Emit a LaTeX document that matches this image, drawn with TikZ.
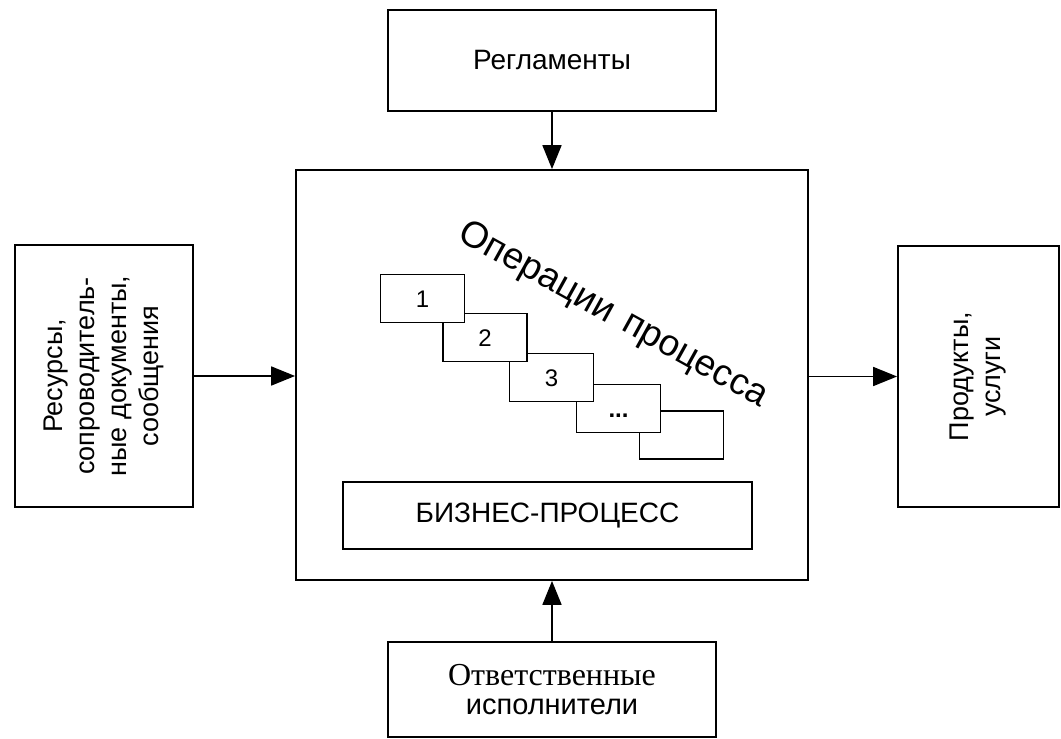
\documentclass[tikz,border=0pt]{standalone}
\usepackage{fontspec}
\setmainfont{Liberation Sans}
\newfontfamily\tnrfont{Liberation Serif}
\usetikzlibrary{arrows.meta}
\begin{document}
\begin{tikzpicture}[x=1pt,y=-1pt,
  box/.style={draw, line width=1.8pt, inner sep=0pt, fill=white},
  opbox/.style={box, minimum width=84pt, minimum height=48pt, text height=17pt, text depth=0pt, font=\fontsize{24}{28}\selectfont},
  arr/.style={line width=1.8pt, -{Triangle[length=24pt,width=19pt]}},
  lbl/.style={font=\fontsize{28}{32}\selectfont, align=center},
  side/.style={font=\fontsize{27}{32}\selectfont},
  optext/.style={rotate=-29, anchor=base west, inner sep=0pt, font=\fontsize{37}{40}\selectfont}]
\useasboundingbox (0,0) rectangle (1061,739);
% main boxes
\node[box, lbl, minimum width=328pt, minimum height=101pt] (top) at (552,60.5) {Регламенты};
\node[box, minimum width=512pt, minimum height=410pt] (center) at (552,375) {};
\node[box, side, minimum width=178pt, minimum height=262pt] (left) at (104,376)
  {\rotatebox{90}{\begin{tabular}{@{}c@{}}Ресурсы,\\сопроводитель-\\ные документы,\\сообщения\end{tabular}}};
\node[box, side, minimum width=161pt, minimum height=261pt] (right) at (978.5,376.5)
  {\rotatebox{90}{\begin{tabular}{@{}c@{}}Продукты,\\услуги\end{tabular}}};
\node[box, minimum width=328pt, minimum height=95pt, align=center, font=\fontsize{29}{29}\selectfont] (bottom) at (552,689.5)
  {{\tnrfont\fontsize{32}{29}\selectfont Ответственные}\\исполнители};
% inner content
\node[box, lbl, minimum width=409pt, minimum height=67pt] (bp) at (547.5,515.5) {БИЗНЕС-ПРОЦЕСС};
\node[opbox] (op5) at (681.5,435) {};
\node[opbox] (op4) at (618.5,408.5) {\textbf{...}};
\node[opbox] (op3) at (551.5,377.5) {3};
\node[opbox] (op2) at (485,337.5) {2};
\node[opbox] (op1) at (422.5,298.5) {1};
\node[optext] (optitle1) at (456.4,239.1) {Операции};
\node[optext] (optitle2) at (620,329.8) {процесса};
% connectors
\draw[arr] (top.south) -- (top.south |- center.north);
\draw[arr] (bottom.north) -- (bottom.north |- center.south);
\draw[arr] (left.east) -- (left.east -| center.west);
\draw[arr] (center.east |- right.west) -- (right.west);
\end{tikzpicture}
\end{document}
